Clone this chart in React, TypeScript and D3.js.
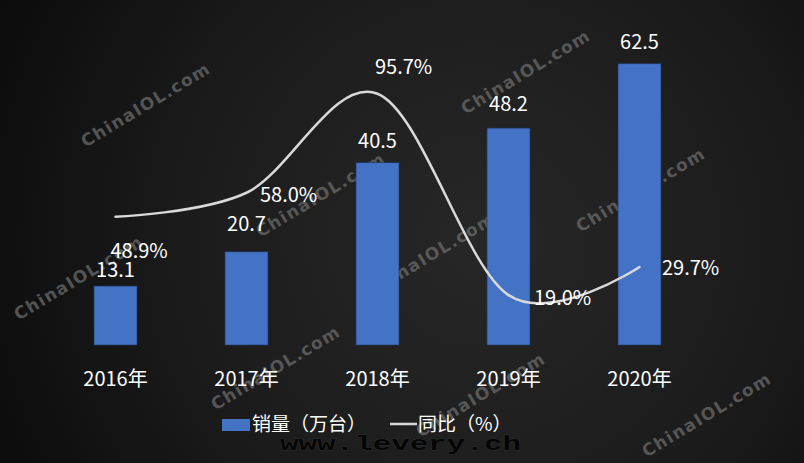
import React from "react";
import * as d3 from "d3";

const years = ["2016年", "2017年", "2018年", "2019年", "2020年"];
const sales = [13.1, 20.7, 40.5, 48.2, 62.5];
const growth = [48.9, 58.0, 95.7, 19.0, 29.7];
const salesLabels = ["13.1", "20.7", "40.5", "48.2", "62.5"];
const growthLabels = ["48.9%", "58.0%", "95.7%", "19.0%", "29.7%"];
const legendSales = "销量（万台）";
const legendGrowth = "同比（%）";
const watermarkText = "ChinaIOL.com";
const footerText = "www.levery.ch";

// layout-only offsets for manually placed labels
const barLabelDy = [-9, -21, -15, -17, -15];
const lineLabelDx = [-5, 13.5, -2.5, 25.5, 22.5];
const lineLabelDy = [41, 9, -20, 10, 8];
const watermarkPos: [number, number][] = [
  [145, 105], [78, 278], [320, 195], [430, 255], [640, 190],
  [525, 72], [275, 368], [480, 395], [706, 415],
];

const W = 804, H = 463;
const FONT = "'Noto Sans CJK SC', 'Noto Sans', sans-serif";

export default function App() {
  const x = d3.scaleBand<string>().domain(years).range([50, 705]).paddingInner(0.672).paddingOuter(0.336);
  const y = d3.scaleLinear().domain([0, 70]).range([345, 30]);
  const y2 = d3.scaleLinear().domain([0, 120]).range([345, 30]);
  const cx = (d: string) => (x(d) as number) + x.bandwidth() / 2;

  const line = d3.line<number>()
    .x((_, i) => cx(years[i]))
    .y((v) => y2(v))
    .curve(d3.curveCatmullRom.alpha(0));

  return (
    <>
      <style>{`body{margin:0;background:#0a0a0a}`}</style>
      <svg width={W} height={H} style={{ display: "block" }}>
        <defs>
          <radialGradient id="bg" cx="480" cy="240" r="560" gradientUnits="userSpaceOnUse">
            <stop offset="0" stopColor="#272727" />
            <stop offset="0.5" stopColor="#1c1c1c" />
            <stop offset="1" stopColor="#0a0a0a" />
          </radialGradient>
        </defs>
        <rect x={0} y={0} width={W} height={H} fill="url(#bg)" />
        {watermarkPos.map(([wx, wy], i) => (
          <text key={i} x={wx} y={wy} transform={`rotate(-31 ${wx} ${wy})`} textAnchor="middle"
            dominantBaseline="central" fill="#6a6a6a" fillOpacity={0.75}
            fontFamily="'DejaVu Sans', sans-serif" fontWeight="bold" fontSize={17}
            textLength={146} lengthAdjust="spacing">{watermarkText}</text>
        ))}
        {years.map((d, i) => (
          <rect key={d} x={x(d)} y={y(sales[i])} width={x.bandwidth()} height={y(0) - y(sales[i])}
            fill="#4472c4" stroke="#1f3a6e" strokeWidth={0.6} />
        ))}
        <path d={line(growth) ?? ""} fill="none" stroke="#d9d9d9" strokeWidth={2.5} strokeLinecap="round" />
        {years.map((d, i) => (
          <text key={"bl" + d} x={cx(d)} y={y(sales[i]) + barLabelDy[i]} textAnchor="middle"
            fill="#ffffff" fontFamily={FONT} fontSize={20}>{salesLabels[i]}</text>
        ))}
        {years.map((d, i) => (
          <text key={"ll" + d} x={cx(d) + lineLabelDx[i]} y={y2(growth[i]) + lineLabelDy[i]} textAnchor="start"
            fill="#ffffff" fontFamily={FONT} fontSize={20}>{growthLabels[i]}</text>
        ))}
        {years.map((d) => (
          <text key={"ax" + d} x={cx(d)} y={386} textAnchor="middle" fill="#ffffff"
            fontFamily={FONT} fontSize={20}>{d}</text>
        ))}
        <rect x={222} y={419} width={28} height={12} fill="#4472c4" />
        <text x={252} y={431} fill="#ffffff" fontFamily={FONT} fontSize={19}>{legendSales}</text>
        <line x1={390} x2={417} y1={424} y2={424} stroke="#d9d9d9" strokeWidth={2.5} />
        <text x={418} y={431} fill="#ffffff" fontFamily={FONT} fontSize={19}>{legendGrowth}</text>
        <text x={280} y={450} fill="#050505" stroke="#2e2e2e" strokeWidth={0.8} paintOrder="stroke"
          fontFamily="'Liberation Mono', 'DejaVu Sans Mono', monospace" fontWeight="bold"
          fontSize={20} textLength={241} lengthAdjust="spacingAndGlyphs">{footerText}</text>
      </svg>
    </>
  );
}
